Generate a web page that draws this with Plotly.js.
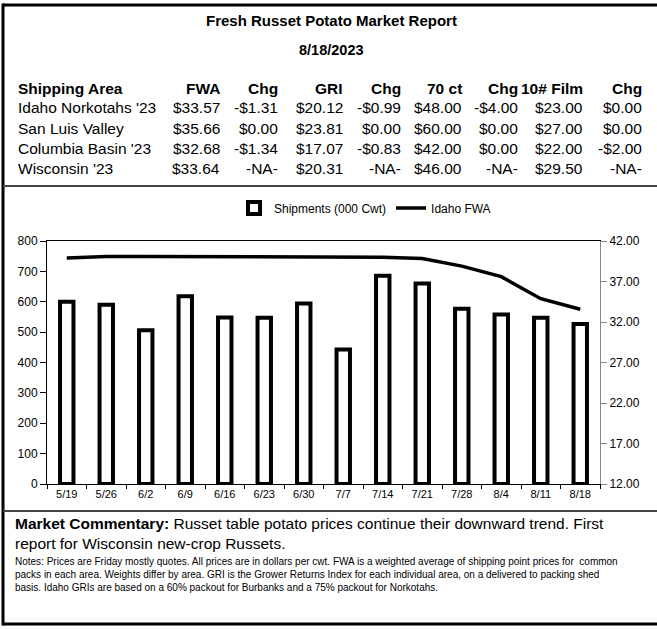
<!DOCTYPE html>
<html>
<head>
<meta charset="utf-8">
<script src="https://cdn.plot.ly/plotly-3.0.1.min.js"></script>
<style>html,body{margin:0;padding:0;background:#fff;}#chart{width:657px;height:629px;}</style>
</head>
<body>
<div id="chart"></div>
<script>
// ---- Data ----
const weeks = ["5/19","5/26","6/2","6/9","6/16","6/23","6/30","7/7","7/14","7/21","7/28","8/4","8/11","8/18"];
const shipments = [600, 590, 506, 618, 548, 547, 594, 443, 686, 660, 577, 558, 547, 527];
const idahoFWA = [39.9, 40.1, 40.1, 40.1, 40.1, 40.05, 40.05, 40.05, 40.0, 39.85, 38.9, 37.6, 34.88, 33.57];

const reportTitle = "Fresh Russet Potato Market Report";
const reportDate = "8/18/2023";
const headers = ["Shipping Area","FWA","Chg","GRI","Chg","70 ct","Chg","10# Film","Chg"];
const areas = ["Idaho Norkotahs '23","San Luis Valley","Columbia Basin '23","Wisconsin '23"];
const fwa = ["$33.57","$35.66","$32.68","$33.64"];
const fwaChg = ["-$1.31","$0.00","-$1.34","-NA-"];
const gri = ["$20.12","$23.81","$17.07","$20.31"];
const griChg = ["-$0.99","$0.00","-$0.83","-NA-"];
const ct70 = ["$48.00","$60.00","$42.00","$46.00"];
const ct70Chg = ["-$4.00","$0.00","$0.00","-NA-"];
const film = ["$23.00","$27.00","$22.00","$29.50"];
const filmChg = ["$0.00","$0.00","-$2.00","-NA-"];

const commentaryLabel = "Market Commentary:";
const commentaryLines = [" Russet table potato prices continue their downward trend. First", "report for Wisconsin new-crop Russets."];
const notesLines = [
  "Notes: Prices are Friday mostly quotes. All prices are in dollars per cwt. FWA is a weighted average of shipping point prices for  common",
  "packs in each area. Weights differ by area. GRI is the Grower Returns Index for each individual area, on a delivered to packing shed",
  "basis. Idaho GRIs are based on a 60% packout for Burbanks and a 75% packout for Norkotahs."
];

// ---- Layout geometry (pixels) ----
const W = 657, H = 629;
const PL = 47, PR = 600, PT = 241, PB = 484;
const px = x => (x - PL) / (PR - PL);
const py = y => (PB - y) / (PB - PT);
const FONT = "Liberation Sans, Arial, sans-serif";

const annotations = [];
function txt(text, x, y, size, anchor, bold) {
  annotations.push({
    text: bold ? "<b>" + text + "</b>" : text,
    xref: "paper", yref: "paper", x: px(x), y: py(y),
    xanchor: anchor, yanchor: "middle", showarrow: false,
    font: {family: FONT, size: size, color: "#000"}
  });
}

txt(reportTitle, 331, 20, 15, "center", true);
txt(reportDate, 331, 50, 14.5, "center", true);

const colRight = [null, 222, 280, 345, 403, 464, 520, 585, 644];
const columns = [areas, fwa, fwaChg, gri, griChg, ct70, ct70Chg, film, filmChg];
const headerY = 88, rowY0 = 108, rowStep = 20;
const TS = 15.5;
headers.forEach((h, i) => {
  if (i === 0) txt(h, 16, headerY, TS, "left", true);
  else txt(h, colRight[i], headerY, TS, "right", true);
});
columns.forEach((col, i) => {
  col.forEach((v, r) => {
    const y = rowY0 + r * rowStep;
    if (i === 0) txt(v, 16, y, TS, "left", false);
    else txt(v, colRight[i], y, TS, "right", false);
  });
});

// commentary
annotations.push({
  text: "<b>" + commentaryLabel + "</b>" + commentaryLines[0],
  xref: "paper", yref: "paper", x: px(13), y: py(523), xanchor: "left", yanchor: "middle",
  showarrow: false, font: {family: FONT, size: 15.5, color: "#000"}
});
txt(commentaryLines[1], 13, 543, 15.5, "left", false);
notesLines.forEach((l, i) => txt(l, 13, 561 + i * 13, 10, "left", false));

const shapes = [];
function line(x0, y0, x1, y1, w, c) {
  shapes.push({type: "line", xref: "paper", yref: "paper", x0: px(x0), y0: py(y0), x1: px(x1), y1: py(y1),
    line: {color: c, width: w}});
}
line(3, 5, 660, 5, 3, "#000");
line(3, 3.5, 3, 625.5, 3, "#000");
line(3, 624, 660, 624, 3, "#000");
line(3, 186, 660, 186, 2, "#444");
line(3, 511, 660, 511, 2, "#444");

const traces = [
  {
    type: "bar", name: "Shipments (000 Cwt)", x: weeks, y: shipments,
    marker: {color: "#fff", line: {color: "#000", width: 4}},
    yaxis: "y"
  },
  {
    type: "scatter", mode: "lines", name: "Idaho FWA", x: weeks, y: idahoFWA,
    line: {color: "#000", width: 3.5}, yaxis: "y2"
  }
];

const layout = {
  width: W, height: H,
  margin: {l: PL, r: W - PR, t: PT, b: H - PB, pad: 0},
  paper_bgcolor: "#fff", plot_bgcolor: "#fff",
  font: {family: FONT, size: 11, color: "#000"},
  bargap: 0.66,
  showlegend: true,
  legend: {orientation: "h", x: px(234), xanchor: "left", y: py(208), yanchor: "middle",
    font: {family: FONT, size: 12}, bgcolor: "rgba(0,0,0,0)", itemwidth: 30, traceorder: "normal"},
  xaxis: {type: "category", showgrid: false, zeroline: false, showline: true, linecolor: "#000", linewidth: 1,
    mirror: true, ticks: "outside", ticklen: 4, tickcolor: "#000", tickson: "boundaries",
    tickfont: {family: FONT, size: 11}},
  yaxis: {range: [0, 800], dtick: 100, showgrid: false, zeroline: false, showline: true, linecolor: "#000",
    linewidth: 1, ticks: "outside", ticklen: 6, tickcolor: "#000", tickfont: {family: FONT, size: 12}},
  yaxis2: {range: [12, 42], dtick: 5, tick0: 12, tickformat: ".2f", overlaying: "y", side: "right",
    showgrid: false, zeroline: false, showline: true, linecolor: "#888", linewidth: 1,
    ticks: "outside", ticklen: 6, tickcolor: "#888", tickfont: {family: FONT, size: 12}},
  annotations: annotations,
  shapes: shapes
};

Plotly.newPlot("chart", traces, layout, {staticPlot: true, displayModeBar: false});
</script>
</body>
</html>
